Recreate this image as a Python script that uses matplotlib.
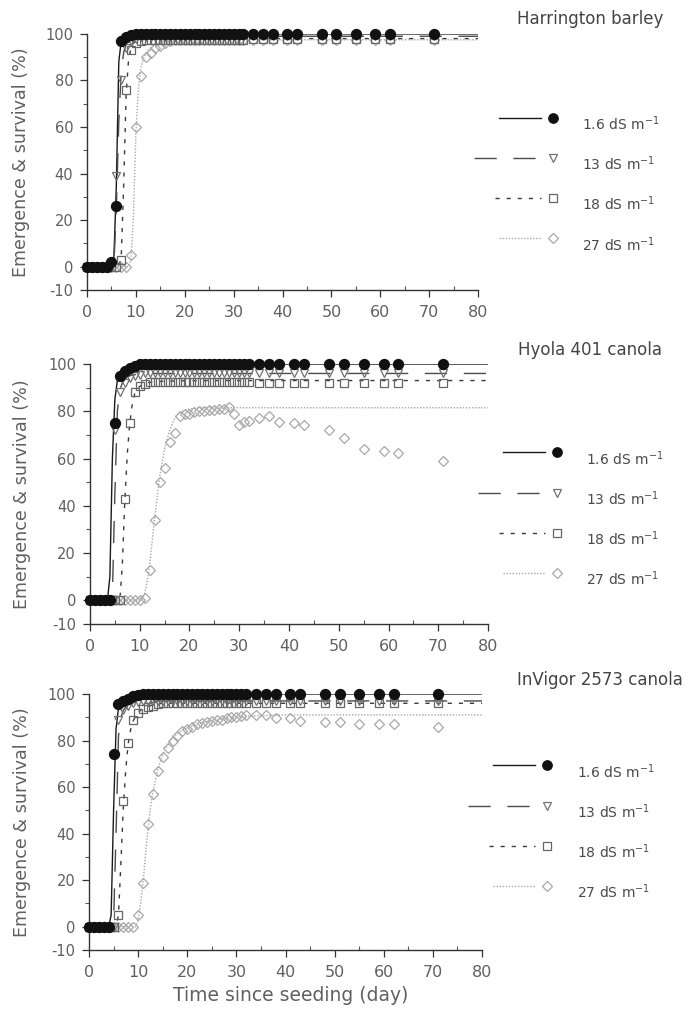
import numpy as np
import matplotlib
matplotlib.use("Agg")
import matplotlib.pyplot as plt
from matplotlib.lines import Line2D
from matplotlib.legend_handler import HandlerBase

plt.rcParams['mathtext.default'] = 'regular'
plt.rcParams['axes.unicode_minus'] = False

# observation days (daily to day 32, then sparse)
days = [0, 1, 2, 3, 4, 5, 6, 7, 8, 9, 10, 11, 12, 13, 14, 15, 16, 17, 18, 19, 20,
        21, 22, 23, 24, 25, 26, 27, 28, 29, 30, 31, 32,
        34, 36, 38, 41, 43, 48, 51, 55, 59, 62, 71]

# days for the fitted curves
fit_days = [0, 3, 3.5, 4, 4.5, 5, 5.5, 6, 6.5, 7, 7.5, 8, 8.5, 9, 9.5, 10, 10.5,
            11, 11.5, 12, 12.5, 13, 14, 15, 16, 17, 18, 20, 22, 25, 28, 32, 40, 80]

salinity = ['1.6', '13', '18', '27']
crops = ['Harrington barley', 'Hyola 401 canola', 'InVigor 2573 canola']

# ---- Harrington barley
hb_16 = [0, 0, 0, 0, 0, 2, 26, 97, 98.5, 99.5, 100, 100, 100, 100, 100, 100, 100, 100, 100, 100, 100,
         100, 100, 100, 100, 100, 100, 100, 100, 100, 100, 100, 100,
         100, 100, 100, 100, 100, 100, 100, 100, 100, 100, 100]
hb_13 = [0, 0, 0, 0, 0, 0, 39, 80, 94, 97, 98, 98.5, 98.5, 98.5, 98.5, 98.5, 98.5, 98.5, 98.5, 98.5, 98.5,
         99, 99, 99, 99, 99, 99, 99, 99, 99, 99, 99, 99,
         99, 99, 99, 99, 99, 99, 99, 99, 99, 99, 99]
hb_18 = [0, 0, 0, 0, 0, 0, 0, 3, 76, 93, 96, 97, 97.5, 97.5, 97.5, 97.5, 97.5, 97.5, 97.5, 97.5, 97.5,
         97.5, 97.5, 97.5, 97.5, 97.5, 97.5, 97.5, 97.5, 97.5, 97.5, 97.5, 97.5,
         98, 98, 98, 98, 98, 98, 98, 98, 98, 98, 98]
hb_27 = [0, 0, 0, 0, 0, 0, 0, 0, 0, 5, 60, 82, 90, 92, 94, 95, 96, 97, 97.5, 97.5, 97.5,
         97.5, 97.5, 97.5, 97.5, 97.5, 97.5, 97.5, 97.5, 97.5, 97.5, 97.5, 97.5,
         97.5, 97.5, 97.5, 97.5, 97.5, 97.5, 97.5, 97.5, 97.5, 97.5, 97.5]
hb_16_fit = [0, 0, 0, 0, 0, 0.5, 4, 35, 88, 97, 99, 99.5, 100, 100, 100, 100, 100,
             100, 100, 100, 100, 100, 100, 100, 100, 100, 100, 100, 100, 100, 100, 100, 100, 100]
hb_13_fit = [0, 0, 0, 0, 0, 0, 1, 25, 62, 84, 92, 95.5, 97, 97.5, 98, 98.3, 98.5,
             98.5, 98.6, 98.7, 98.7, 98.8, 98.8, 98.9, 98.9, 99, 99, 99, 99, 99, 99, 99, 99, 99]
hb_18_fit = [0, 0, 0, 0, 0, 0, 0, 0, 0, 4, 35, 74, 89, 94, 96, 97, 97.3,
             97.5, 97.6, 97.7, 97.8, 97.8, 97.9, 98, 98, 98, 98, 98, 98, 98, 98, 98, 98, 98]
hb_27_fit = [0, 0, 0, 0, 0, 0, 0, 0, 0, 0, 0, 0, 0, 3, 22, 58, 76,
             85, 89, 91.5, 93, 94, 95.3, 96, 96.5, 96.8, 97, 97.2, 97.3, 97.4, 97.5, 97.5, 97.5, 97.5]

# ---- Hyola 401 canola
hy_16 = [0, 0, 0, 0, 0, 75, 95, 97, 98.5, 99, 100, 100, 100, 100, 100, 100, 100, 100, 100, 100, 100,
         100, 100, 100, 100, 100, 100, 100, 100, 100, 100, 100, 100,
         100, 100, 100, 100, 100, 100, 100, 100, 100, 100, 100]
hy_13 = [0, 0, 0, 0, 0, 72, 88, 92, 94, 95, 95.5, 96, 96, 96, 96, 96, 96, 96, 96, 96, 96,
         96, 96, 96, 96, 96, 96, 96, 96, 96, 96, 96, 96,
         96, 96, 96, 96, 96, 96, 96, 96, 96, 96, 96]
hy_18 = [0, 0, 0, 0, 0, 0, 0, 43, 75, 88, 90.5, 91.5, 92.5, 92.5, 92.5, 92.5, 92.5, 92.5, 92.5, 92.5, 92.5,
         92.5, 92.5, 92.5, 92.5, 92.5, 92.5, 92.5, 92.5, 92.5, 92.5, 92.5, 92.5,
         92, 92, 92, 92, 92, 92, 92, 92, 92, 92, 92]
hy_27 = [0, 0, 0, 0, 0, 0, 0, 0, 0, 0, 0, 1, 13, 34, 50, 56, 67, 71, 78, 79, 79,
         79.5, 80, 80, 80.5, 80.5, 81, 81, 82, 79, 74, 75.5, 76,
         77, 78, 75.5, 75, 74, 72, 68.5, 64, 63, 62.5, 59]
hy_16_fit = [0, 0, 0, 10, 60, 85, 93, 96, 97.5, 98.3, 98.8, 99.2, 99.5, 99.7, 100, 100, 100,
             100, 100, 100, 100, 100, 100, 100, 100, 100, 100, 100, 100, 100, 100, 100, 100, 100]
hy_13_fit = [0, 0, 0, 0, 2, 45, 80, 89, 92, 93.5, 94.5, 95, 95.3, 95.5, 95.7, 95.8, 95.9,
             96, 96, 96, 96, 96, 96, 96, 96, 96, 96, 96, 96, 96, 96, 96, 96, 96]
hy_18_fit = [0, 0, 0, 0, 0, 0, 0, 0, 15, 42, 62, 75, 83, 87.5, 89.5, 90.5, 91.2,
             91.7, 92, 92.2, 92.4, 92.5, 92.6, 92.7, 92.8, 92.8, 92.9, 92.9, 93, 93, 93, 93, 93, 93]
hy_27_fit = [0, 0, 0, 0, 0, 0, 0, 0, 0, 0, 0, 0, 0, 0, 0, 0, 0.5,
             3, 8, 15, 25, 35, 52, 64, 72, 77, 79.5, 81, 81.5, 81.5, 81.5, 81.5, 81.5, 81.5]

# ---- InVigor 2573 canola
iv_16 = [0, 0, 0, 0, 0, 74, 95.5, 97, 98, 99, 99.5, 100, 100, 100, 100, 100, 100, 100, 100, 100, 100,
         100, 100, 100, 100, 100, 100, 100, 100, 100, 100, 100, 100,
         100, 100, 100, 100, 100, 100, 100, 100, 100, 100, 100]
iv_13 = [0, 0, 0, 0, 0, 0, 89, 93, 95, 96, 96.5, 97, 97, 97, 97, 97, 97, 97, 97, 97, 97,
         97, 97, 97, 97, 97, 97, 97, 97, 97, 97, 97, 97,
         97, 97, 97, 97, 97, 97, 97, 97, 97, 97, 97]
iv_18 = [0, 0, 0, 0, 0, 0, 5, 54, 79, 89, 92, 93.5, 94.5, 95, 95.5, 96, 96, 96, 96, 96, 96,
         96, 96, 96, 96, 96, 96, 96, 96, 96, 96, 96, 96,
         96, 96, 96, 96, 96, 96, 96, 96, 96, 96, 96]
iv_27 = [0, 0, 0, 0, 0, 0, 0, 0, 0, 0, 5, 19, 44, 57, 67, 73, 77, 80, 82, 84, 85,
         86, 87, 87.5, 88, 88.5, 89, 89, 89.5, 90, 90, 90.5, 91,
         91, 91, 89.5, 89.5, 88.5, 88, 88, 87, 87, 87, 86]
iv_16_fit = [0, 0, 0, 0, 5, 50, 85, 94, 96.5, 97.5, 98.3, 98.8, 99.2, 99.5, 99.7, 99.8, 99.9,
             100, 100, 100, 100, 100, 100, 100, 100, 100, 100, 100, 100, 100, 100, 100, 100, 100]
iv_13_fit = [0, 0, 0, 0, 0, 2, 40, 82, 90, 93, 94.5, 95.3, 95.8, 96.2, 96.5, 96.7, 96.8,
             97, 97, 97, 97, 97, 97, 97, 97, 97, 97, 97, 97, 97, 97, 97, 97, 97]
iv_18_fit = [0, 0, 0, 0, 0, 0, 0, 5, 28, 52, 68, 79, 85, 88.5, 90.5, 92, 93,
             93.8, 94.3, 94.7, 95, 95.3, 95.7, 96, 96, 96, 96, 96, 96, 96, 96, 96, 96, 96]
iv_27_fit = [0, 0, 0, 0, 0, 0, 0, 0, 0, 0, 0, 0, 0, 0, 0, 3, 10,
             19, 31, 42, 51, 58, 67.5, 74, 78, 81, 83, 85.5, 87, 88.5, 89.5, 90.5, 91, 91]

obs = [[hb_16, hb_13, hb_18, hb_27], [hy_16, hy_13, hy_18, hy_27], [iv_16, iv_13, iv_18, iv_27]]
fits = [[hb_16_fit, hb_13_fit, hb_18_fit, hb_27_fit],
        [hy_16_fit, hy_13_fit, hy_18_fit, hy_27_fit],
        [iv_16_fit, iv_13_fit, iv_18_fit, iv_27_fit]]

# styles per salinity level
styles = [
    dict(ls='-', lc='#1a1a1a', mk='o', mfc='#111111', mec='#111111', ms=7.2, lead=30),
    dict(ls=(0, (16, 12)), lc='#4a4a4a', mk='v', mfc='none', mec='#707070', ms=6.2, lead=48),
    dict(ls=(0, (3, 5)), lc='#3a3a3a', mk='s', mfc='none', mec='#666666', ms=6.0, lead=33),
    dict(ls=(0, (1, 1.2)), lc='#a8a8a8', mk='D', mfc='none', mec='#a8a8a8', ms=5.2, lead=30),
]


class KeyHandler(HandlerBase):
    # line on the left, marker at the right end, both lifted above the text centre
    def __init__(self, lead, gap=9.0, lift=0.55):
        super().__init__()
        self.lead = lead
        self.gap = gap
        self.lift = lift

    def create_artists(self, legend, orig_handle, xdescent, ydescent,
                       width, height, fontsize, trans):
        right = width - xdescent
        y = (height - ydescent) / 2 + self.lift * fontsize
        line = Line2D([right - self.gap - self.lead, right - self.gap], [y, y])
        line.update_from(orig_handle)
        line.set_marker('')
        mark = Line2D([right], [y])
        mark.update_from(orig_handle)
        mark.set_linestyle('')
        line.set_transform(trans)
        mark.set_transform(trans)
        return [line, mark]


fig = plt.figure(figsize=(6.89, 10.10), dpi=100)

# axes rectangles [left, bottom, width, height] in figure fraction
rects = [[0.1263, 0.7129, 0.5675, 0.2535],
         [0.1306, 0.3822, 0.5777, 0.2574],
         [0.1292, 0.0594, 0.5704, 0.2535]]
legend_anchor = [(0.997, 0.685), (0.982, 0.672), (0.972, 0.733)]
title_pos = [(0.856, 0.981), (0.856, 0.6535), (0.871, 0.3267)]
ylab_x = [-0.145, -0.148, -0.147]

for p in range(3):
    ax = fig.add_axes(rects[p])
    handles = []
    for k in range(3, -1, -1):
        st = styles[k]
        ax.plot(fit_days, fits[p][k], linestyle=st['ls'], color=st['lc'], lw=1.0,
                zorder=2 + k * 0.01)
        ax.plot(days, obs[p][k], linestyle='none', marker=st['mk'], mfc=st['mfc'],
                mec=st['mec'], ms=st['ms'], mew=0.9, clip_on=False, zorder=3 + (3 - k))
    hmap = {}
    for k in range(4):
        st = styles[k]
        h = Line2D([], [], linestyle=st['ls'], color=st['lc'], lw=1.0, marker=st['mk'],
                   mfc=st['mfc'], mec=st['mec'], ms=st['ms'] - 0.4, mew=0.9)
        handles.append(h)
        hmap[h] = KeyHandler(st['lead'])
    labels = [s + ' dS m$^{-1}$' for s in salinity]
    ax.legend(handles, labels, handler_map=hmap, loc='upper left',
              bbox_to_anchor=legend_anchor[p], borderaxespad=0, borderpad=0,
              frameon=False, handlelength=5.5, handletextpad=2.1, labelspacing=1.55,
              fontsize=10, labelcolor='#4a4a4a')

    ax.set_xlim(0, 80)
    ax.set_ylim(-10, 100)
    ax.set_xticks(np.arange(0, 81, 10))
    ax.set_xticks(np.arange(5, 80, 10), minor=True)
    ax.set_yticks([-10, 0, 20, 40, 60, 80, 100])
    ax.set_yticks([10, 30, 50, 70, 90], minor=True)
    for s in ['top', 'right']:
        ax.spines[s].set_visible(False)
    for s in ['left', 'bottom']:
        ax.spines[s].set_color('#333333')
        ax.spines[s].set_linewidth(1.0)
    ax.tick_params(axis='y', which='major', direction='out', length=5, width=0.9,
                   color='#333333', labelcolor='#606060', labelsize=10.5, pad=5)
    ax.tick_params(axis='y', which='minor', direction='out', length=3, width=0.8,
                   color='#555555')
    ax.tick_params(axis='x', which='major', direction='out', length=5, width=0.9,
                   color='#333333', labelcolor='#606060', labelsize=11.5, pad=6)
    ax.tick_params(axis='x', which='minor', direction='in', length=3, width=0.8,
                   color='#555555')
    ax.set_ylabel('Emergence & survival (%)', fontsize=12.6, color='#606060')
    ax.yaxis.set_label_coords(ylab_x[p], 0.5)
    fig.text(title_pos[p][0], title_pos[p][1], crops[p], ha='center', va='center',
             fontsize=12, color='#444444')
    if p == 2:
        ax.set_xlabel('Time since seeding (day)', fontsize=13.5, color='#606060')
        ax.xaxis.set_label_coords(0.514, -0.14)

fig.savefig('out.png', dpi=100)
